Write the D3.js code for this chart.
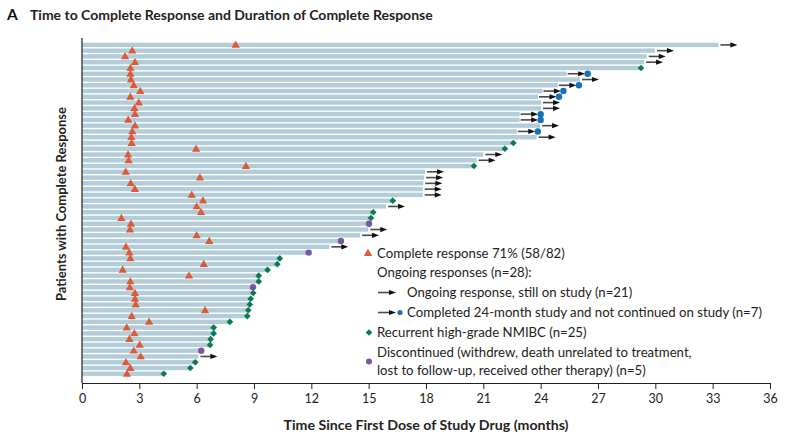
<!DOCTYPE html>
<html><head><meta charset="utf-8">
<script src="https://cdn.jsdelivr.net/npm/d3@7"></script>
<style>
html,body{margin:0;padding:0;background:#fff;}
svg{display:block;}
text{font-family:Lato,"Open Sans",sans-serif;}
</style></head>
<body>
<svg id="chart" width="793" height="444"></svg>
<script>
// ---- data (one entry per patient, top to bottom) ----
const timeToCR = [8.04,2.63,2.25,2.77,2.53,2.53,2.56,2.71,3.05,2.53,2.97,2.74,2.77,2.42,2.77,2.63,2.58,2.60,5.97,2.41,
  2.44,8.58,2.29,6.17,2.55,2.77,5.74,6.33,6.00,6.23,2.06,2.56,2.51,6.00,6.66,2.30,2.48,2.53,6.37,2.13,
  5.60,2.53,2.50,2.77,2.77,2.81,6.44,2.60,3.51,2.34,2.74,2.48,3.02,2.71,3.07,2.30,2.53,2.35];
const endTime = [33.3,29.98,29.55,29.41,29.25,26.46,26.06,26.0,25.19,24.96,24.02,24.02,24.0,24.0,23.97,23.85,23.79,22.57,22.13,21.0,
  20.65,20.51,17.95,17.9,17.86,17.83,17.83,16.26,15.91,15.24,15.12,15.02,14.98,14.55,13.55,12.94,11.86,10.35,10.22,9.71,
  9.25,9.25,8.95,8.96,8.83,8.78,8.70,8.65,7.74,6.89,6.89,6.73,6.70,6.24,6.09,5.93,5.67,4.28];
// O = ongoing, C = completed 24-month study, R = recurrent HG NMIBC, D = discontinued
const outcome = ["O","O","O","O","R","C","O","C","C","C","O","O","C","C","O","C","O","R","R","O",
  "O","R","O","O","O","O","O","R","O","R","R","D","O","O","D","O","D","R","R","R",
  "R","R","D","R","R","R","R","R","R","R","R","R","R","D","O","R","R","R"];
const xTicks = [0,3,6,9,12,15,18,21,24,27,30,33,36];
const legendItems = [
  {type:"tri", lines:["Complete response 71% (58/82)"]},
  {type:"none", lines:["Ongoing responses (n=28):"]},
  {type:"arrow", lines:["Ongoing response, still on study (n=21)"]},
  {type:"arrowdot", lines:["Completed 24-month study and not continued on study (n=7)"]},
  {type:"diamond", lines:["Recurrent high-grade NMIBC (n=25)"]},
  {type:"dot", lines:["Discontinued (withdrew, death unrelated to treatment,","lost to follow-up, received other therapy) (n=5)"]}
];

const C = {bar:"#b3cdd8", tri:"#dc5a3c", green:"#0b7a50", blue:"#1672b8", purple:"#7c55a6", shaft:"#4a4a4a", head:"#111"};

const svg = d3.select("#chart");
const M = {left:82, right:770, top:42, bottom:383};
const x = d3.scaleLinear().domain([0,36]).range([M.left, M.right]);
const idx = d3.range(endTime.length);
const y = d3.scaleBand().domain(idx).range([M.top, M.top + 5.77*endTime.length]).paddingInner(0.24).paddingOuter(0.12);
const bh = y.bandwidth();
const cy = i => y(i) + bh/2;

// title
svg.append("text").attr("x",7).attr("y",20).attr("font-size",15.5).attr("font-weight",700).attr("fill","#111").text("A");
svg.append("text").attr("x",30).attr("y",20).attr("font-size",14).attr("font-weight",700).attr("fill","#222")
  .text("Time to Complete Response and Duration of Complete Response");

// bars
const ARW = 21; // arrow length in px for completed-study markers
svg.append("g").selectAll("rect").data(idx).join("rect")
  .attr("x", x(0))
  .attr("y", i => y(i))
  .attr("height", bh)
  .attr("width", i => (outcome[i]==="C" ? x(endTime[i]) - ARW : x(endTime[i])) - x(0))
  .attr("fill", C.bar);

function arrow(g, x1, x2, yy){
  g.append("line").attr("x1",x1).attr("x2",x2-5).attr("y1",yy).attr("y2",yy)
    .attr("stroke",C.shaft).attr("stroke-width",1.6);
  g.append("path").attr("d",`M${x2-7},${yy-2.6}L${x2},${yy}L${x2-7},${yy+2.6}Z`).attr("fill",C.head);
}

const mk = svg.append("g");
idx.forEach(i => {
  const xe = x(endTime[i]), yy = cy(i);
  if (outcome[i]==="O") arrow(mk, xe+2, xe+19, yy);
  if (outcome[i]==="C") { arrow(mk, xe-ARW+1, xe-2.5, yy); }
});
// completed dots
mk.selectAll("circle.c").data(idx.filter(i=>outcome[i]==="C")).join("circle")
  .attr("cx", i=>x(endTime[i])).attr("cy", cy).attr("r",3.2).attr("fill",C.blue);
// discontinued dots
mk.selectAll("circle.d").data(idx.filter(i=>outcome[i]==="D")).join("circle")
  .attr("cx", i=>x(endTime[i])).attr("cy", cy).attr("r",3.2).attr("fill",C.purple);
// recurrence diamonds (rotated squares)
const dsym = d3.symbol().type(d3.symbolSquare).size(22);
mk.selectAll("path.r").data(idx.filter(i=>outcome[i]==="R")).join("path")
  .attr("transform", i=>`translate(${x(endTime[i])},${cy(i)}) rotate(45)`).attr("d", dsym()).attr("fill",C.green);
// CR triangles
const tsym = d3.symbol().type(d3.symbolTriangle).size(30);
mk.selectAll("path.t").data(idx).join("path")
  .attr("transform", i=>`translate(${x(timeToCR[i])},${cy(i)+0.5})`).attr("d", tsym()).attr("fill",C.tri);

// axes
const xAxis = svg.append("g").attr("transform",`translate(0,${M.bottom})`)
  .call(d3.axisBottom(x).tickValues(xTicks).tickSize(6).tickSizeOuter(0).tickFormat(d3.format("d")));
xAxis.select(".domain").attr("stroke","#222").attr("stroke-width",1.2);
xAxis.selectAll(".tick line").attr("stroke","#222");
xAxis.selectAll(".tick text").attr("font-family","'Liberation Sans Narrow','Lato',sans-serif").attr("font-size",12.5).attr("fill","#222").attr("dy","0.9em");
svg.append("line").attr("x1",M.left).attr("x2",M.left).attr("y1",38).attr("y2",M.bottom).attr("stroke","#222").attr("stroke-width",1.2);

svg.append("text").attr("x",426).attr("y",430).attr("text-anchor","middle")
  .attr("font-family","'Liberation Sans Narrow','Lato',sans-serif").attr("font-weight",700).attr("font-size",13.5).attr("fill","#222")
  .attr("textLength",285).attr("lengthAdjust","spacingAndGlyphs")
  .text("Time Since First Dose of Study Drug (months)");
svg.append("text").attr("transform","translate(66,204) rotate(-90)").attr("text-anchor","middle")
  .attr("font-weight",700).attr("font-size",13).attr("fill","#222")
  .text("Patients with Complete Response");

// legend
const lg = svg.append("g");
const rowY = [253,272.5,292.5,312.5,332.5,352.5];
legendItems.forEach((it,k) => {
  const yy = rowY[k];
  const tx = (it.type==="arrow"||it.type==="arrowdot") ? 407 : 377;
  it.lines.forEach((ln,j) => {
    lg.append("text").attr("x",tx).attr("y",yy + j*18).attr("dy","0.35em").attr("font-size",13.2).attr("fill","#222").text(ln);
  });
  if (it.type==="tri") lg.append("path").attr("transform",`translate(368,${yy+0.5})`).attr("d",tsym()).attr("fill",C.tri);
  if (it.type==="arrow") arrow(lg, 378, 396, yy);
  if (it.type==="arrowdot") { arrow(lg, 378, 396, yy); lg.append("circle").attr("cx",400).attr("cy",yy).attr("r",2.6).attr("fill",C.blue); }
  if (it.type==="diamond") lg.append("path").attr("transform",`translate(369,${yy}) rotate(45)`).attr("d",dsym()).attr("fill",C.green);
  if (it.type==="dot") lg.append("circle").attr("cx",369).attr("cy",yy+9).attr("r",3).attr("fill",C.purple);
});
</script>
</body></html>
